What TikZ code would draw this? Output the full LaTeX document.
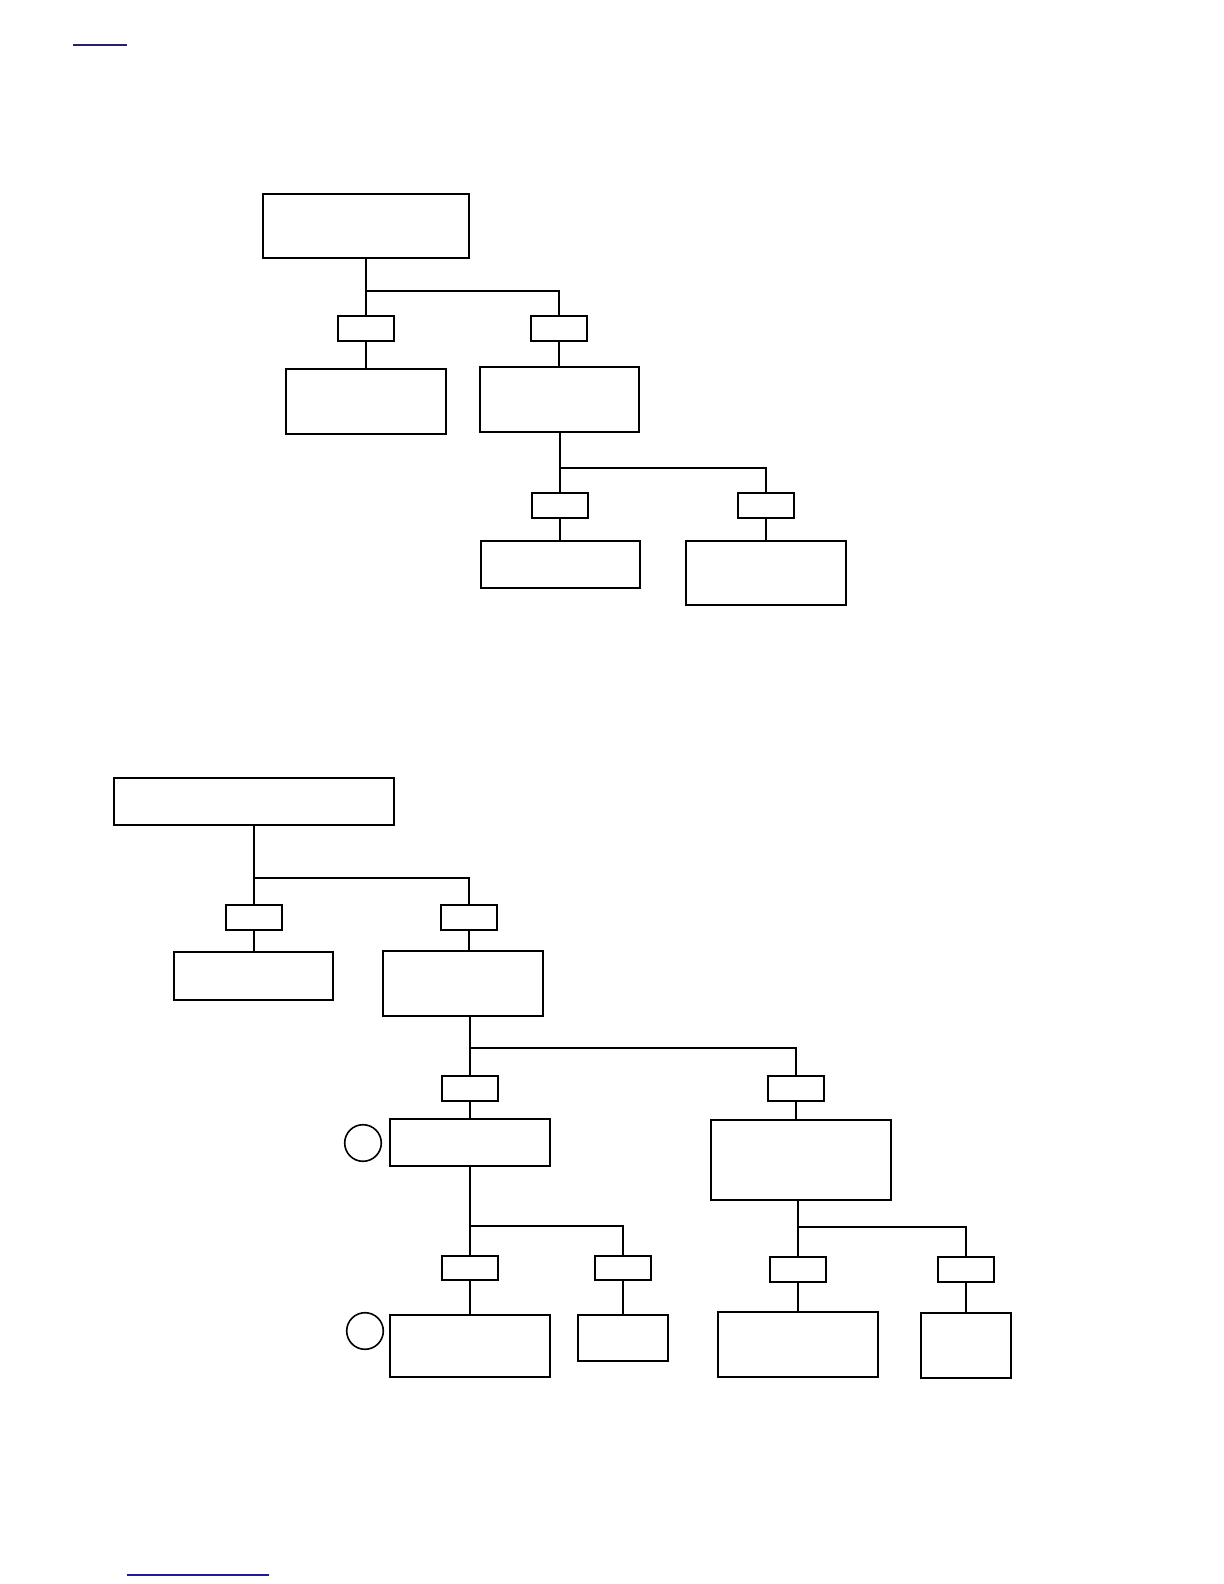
\documentclass[tikz,border=0pt]{standalone}
\begin{document}
\begin{tikzpicture}[x=0.5pt,y=-0.5pt,
  box/.style={draw=black,line width=1pt,inner sep=0pt,outer sep=0pt,fill=white},
  conn/.style={draw=black,line width=1pt},
  ring/.style={draw=black,line width=0.8pt,circle,inner sep=0pt,outer sep=0pt}]
\useasboundingbox[fill=white] (0,0) rectangle (1224,1584);
\newcommand\bx[5]{\node[box,minimum width={(#4-#2)*0.5pt},minimum height={(#5-#3)*0.5pt}] (#1) at ({(#2+#4)/2},{(#3+#5)/2}) {};}
% blue rules
\draw[line width=0.7pt,color={rgb,255:red,42;green,31;blue,107}] (73,45) -- (127,45);
\draw[line width=0.7pt,color={rgb,255:red,26;green,26;blue,160}] (127,1575) -- (269,1575);
% ---------- upper tree ----------
\bx{A}{263}{194}{469}{258}
\bx{aL}{338}{316}{394}{341}
\bx{aR}{531}{316}{587}{341}
\bx{B}{286}{369}{446}{434}
\bx{C}{480}{367}{639}{432}
\bx{cL}{532}{493}{588}{518}
\bx{cR}{738}{493}{794}{518}
\bx{D}{481}{541}{640}{588}
\bx{E}{686}{541}{846}{605}
\coordinate (jA) at (366,291);
\coordinate (jC) at (560,468);
\draw[conn] (A.south -| jA) -- (aL.north -| jA);
\draw[conn] (jA) -| (aR.north);
\draw[conn] (aL.south) -- (aL.south |- B.north);
\draw[conn] (aR.south) -- (aR.south |- C.north);
\draw[conn] (C.south -| jC) -- (cL.north -| jC);
\draw[conn] (jC) -| (cR.north);
\draw[conn] (cL.south) -- (cL.south |- D.north);
\draw[conn] (cR.south) -- (cR.south |- E.north);
% ---------- lower tree ----------
\bx{F}{114}{778}{394}{825}
\bx{fL}{226}{905}{282}{930}
\bx{fR}{441}{905}{497}{930}
\bx{G}{174}{952}{333}{1000}
\bx{H}{383}{951}{543}{1016}
\coordinate (jF) at (254,878);
\draw[conn] (F.south -| jF) -- (fL.north -| jF);
\draw[conn] (jF) -| (fR.north);
\draw[conn] (fL.south) -- (fL.south |- G.north);
\draw[conn] (fR.south) -- (fR.south |- H.north);
\bx{hL}{442}{1076}{498}{1101}
\bx{hR}{768}{1076}{824}{1101}
\bx{K}{390}{1119}{550}{1166}
\bx{M}{711}{1120}{891}{1200}
\coordinate (jH) at (470,1048);
\draw[conn] (H.south -| jH) -- (hL.north -| jH);
\draw[conn] (jH) -| (hR.north);
\draw[conn] (hL.south) -- (hL.south |- K.north);
\draw[conn] (hR.south) -- (hR.south |- M.north);
\node[ring,minimum size=18.3pt] (c1) at (363,1143) {};
% under K
\bx{kL}{442}{1256}{498}{1280}
\bx{kR}{595}{1256}{651}{1280}
\bx{P}{390}{1315}{550}{1377}
\bx{Q}{578}{1315}{668}{1361}
\coordinate (jK) at (470,1226);
\draw[conn] (K.south -| jK) -- (kL.north -| jK);
\draw[conn] (jK) -| (kR.north);
\draw[conn] (kL.south) -- (kL.south |- P.north);
\draw[conn] (kR.south) -- (kR.south |- Q.north);
\node[ring,minimum size=18.3pt] (c2) at (365,1331) {};
% under M
\bx{mL}{770}{1257}{826}{1282}
\bx{mR}{938}{1257}{994}{1282}
\bx{R}{718}{1312}{878}{1377}
\bx{S}{921}{1313}{1011}{1378}
\coordinate (jM) at (798,1227);
\draw[conn] (M.south -| jM) -- (mL.north -| jM);
\draw[conn] (jM) -| (mR.north);
\draw[conn] (mL.south) -- (mL.south |- R.north);
\draw[conn] (mR.south) -- (mR.south |- S.north);
\end{tikzpicture}
\end{document}
